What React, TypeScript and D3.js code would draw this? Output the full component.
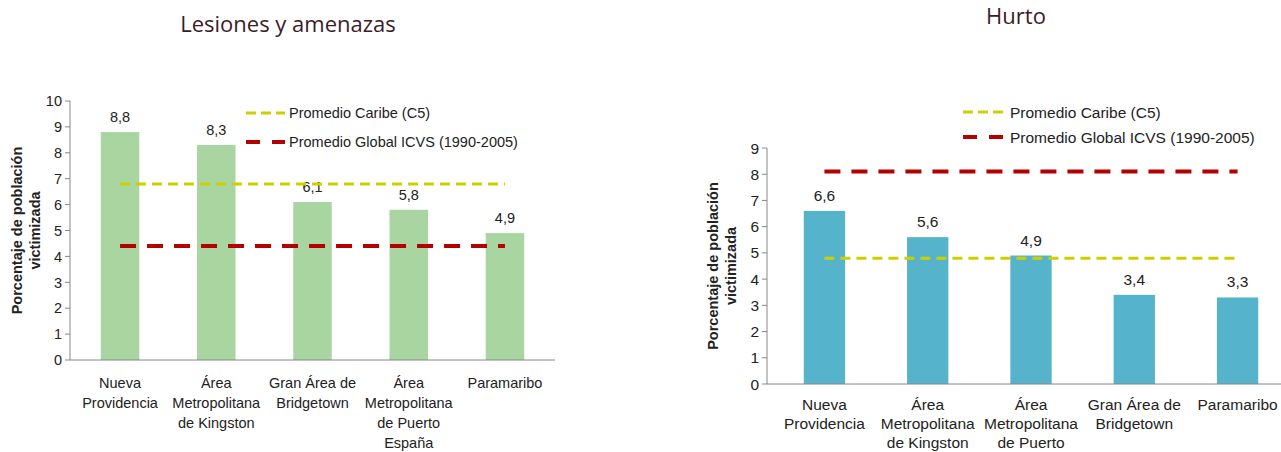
import React from 'react';
import * as d3 from 'd3';

// Lesiones y amenazas
const lesionesCategories = [
  'Nueva\nProvidencia',
  'Área\nMetropolitana\nde Kingston',
  'Gran Área de\nBridgetown',
  'Área\nMetropolitana\nde Puerto\nEspaña',
  'Paramaribo',
];
const lesionesValues = [8.8, 8.3, 6.1, 5.8, 4.9];
const lesionesCaribe = 6.8;
const lesionesGlobal = 4.4;
const lesionesTicks = [0, 1, 2, 3, 4, 5, 6, 7, 8, 9, 10];

// Hurto
const hurtoCategories = [
  'Nueva\nProvidencia',
  'Área\nMetropolitana\nde Kingston',
  'Área\nMetropolitana\nde Puerto\nEspaña',
  'Gran Área de\nBridgetown',
  'Paramaribo',
];
const hurtoValues = [6.6, 5.6, 4.9, 3.4, 3.3];
const hurtoCaribe = 4.8;
const hurtoGlobal = 8.1;
const hurtoTicks = [0, 1, 2, 3, 4, 5, 6, 7, 8, 9];

const legendLabels = ['Promedio Caribe (C5)', 'Promedio Global ICVS (1990-2005)'];

const FONT = '"Liberation Sans", Arial, sans-serif';
const YELLOW = '#cfcf00';
const RED = '#b40000';

type PanelProps = {
  title: string;
  titleX: number;
  titleY: number;
  categories: string[];
  values: number[];
  caribe: number;
  global: number;
  ticks: number[];
  color: string;
  x0: number;
  x1: number;
  outer: number;
  yTop: number;
  yBottom: number;
  fs: number;
  catOffset: number;
  catGap: number;
  axisTitleX: number;
  legendX: number;
  legendY: number;
  legendGap: number;
  legendTextX: number;
};

const Panel: React.FC<PanelProps> = (p) => {
  const x = d3
    .scaleBand<string>()
    .domain(p.categories)
    .range([p.x0, p.x1])
    .paddingInner(0.6)
    .paddingOuter(p.outer);
  const y = d3
    .scaleLinear()
    .domain([0, d3.max(p.ticks) || 10])
    .range([p.yBottom, p.yTop]);
  const center = (c: string) => (x(c) || 0) + x.bandwidth() / 2;
  const first = center(p.categories[0]);
  const last = center(p.categories[p.categories.length - 1]);
  const hline = d3.line<number>().x((d) => d).y(() => 0);
  const midY = (p.yTop + p.yBottom) / 2;

  return (
    <g fontFamily={FONT}>
      <text
        x={p.titleX}
        y={p.titleY}
        textAnchor="middle"
        fontFamily='"Open Sans", "Noto Sans", sans-serif'
        fontSize={22}
        fill="#3a1c29"
      >
        {p.title}
      </text>

      {/* bars */}
      {p.values.map((v, i) => {
        const c = p.categories[i];
        return (
          <g key={c}>
            <rect x={x(c)} y={y(v)} width={x.bandwidth()} height={y(0) - y(v)} fill={p.color} />
            <text x={center(c)} y={y(v) - 10} textAnchor="middle" fontSize={p.fs} fill="#222">
              {v.toFixed(1).replace('.', ',')}
            </text>
          </g>
        );
      })}

      {/* reference lines */}
      <path
        d={hline([first, last]) || ''}
        transform={`translate(0,${y(p.caribe)})`}
        stroke={YELLOW}
        strokeWidth={3}
        strokeDasharray="10,6"
        fill="none"
      />
      <path
        d={hline([first, last]) || ''}
        transform={`translate(0,${y(p.global)})`}
        stroke={RED}
        strokeWidth={4}
        strokeDasharray="16,11"
        fill="none"
      />

      {/* axes */}
      <line x1={p.x0} x2={p.x0} y1={y(d3.max(p.ticks) || 10)} y2={y(0)} stroke="#888" />
      <line x1={p.x0} x2={p.x1} y1={y(0)} y2={y(0)} stroke="#888" />
      {p.ticks.map((t) => (
        <g key={t}>
          <line x1={p.x0 - 5} x2={p.x0} y1={y(t)} y2={y(t)} stroke="#888" />
          <text x={p.x0 - 8} y={y(t) + p.fs * 0.36} textAnchor="end" fontSize={p.fs} fill="#222">
            {t}
          </text>
        </g>
      ))}

      {/* category labels */}
      {p.categories.map((c) => (
        <text key={c} x={center(c)} y={y(0) + p.catOffset} textAnchor="middle" fontSize={p.fs} fill="#222">
          {c.split('\n').map((line, j) => (
            <tspan key={j} x={center(c)} dy={j === 0 ? 0 : p.catGap}>
              {line}
            </tspan>
          ))}
        </text>
      ))}

      {/* y axis title */}
      <text
        transform={`translate(${p.axisTitleX},${midY}) rotate(-90)`}
        textAnchor="middle"
        fontSize={14.5}
        fontWeight="bold"
        fill="#222"
      >
        <tspan x={0} dy={0}>Porcentaje de población</tspan>
        <tspan x={0} dy={18}>victimizada</tspan>
      </text>

      {/* legend */}
      {legendLabels.map((l, i) => (
        <g key={l} transform={`translate(${p.legendX},${p.legendY + i * p.legendGap})`}>
          <line
            x1={0}
            x2={p.legendTextX - 4}
            y1={0}
            y2={0}
            stroke={i === 0 ? YELLOW : RED}
            strokeWidth={i === 0 ? 3 : 4}
            strokeDasharray={i === 0 ? '10,5' : '14,12'}
          />
          <text x={p.legendTextX} y={p.fs * 0.36} fontSize={p.fs} fill="#222">
            {l}
          </text>
        </g>
      ))}
    </g>
  );
};

const App: React.FC = () => {
  return (
    <svg width={1281} height={452} style={{ position: 'absolute', left: 0, top: 0, background: '#fff' }}>
      <Panel
        title="Lesiones y amenazas"
        titleX={288}
        titleY={32}
        categories={lesionesCategories}
        values={lesionesValues}
        caribe={lesionesCaribe}
        global={lesionesGlobal}
        ticks={lesionesTicks}
        color="#a9d5a0"
        x0={70}
        x1={555}
        outer={0.32}
        yTop={101}
        yBottom={360}
        fs={14.5}
        catOffset={28}
        catGap={20}
        axisTitleX={22}
        legendX={246}
        legendY={113}
        legendGap={29}
        legendTextX={43}
      />
      <Panel
        title="Hurto"
        titleX={1016}
        titleY={24}
        categories={hurtoCategories}
        values={hurtoValues}
        caribe={hurtoCaribe}
        global={hurtoGlobal}
        ticks={hurtoTicks}
        color="#55b4cc"
        x0={767}
        x1={1295}
        outer={0.356}
        yTop={148}
        yBottom={384}
        fs={15.5}
        catOffset={26}
        catGap={19}
        axisTitleX={718}
        legendX={963}
        legendY={112}
        legendGap={25}
        legendTextX={47}
      />
    </svg>
  );
};

export default App;
